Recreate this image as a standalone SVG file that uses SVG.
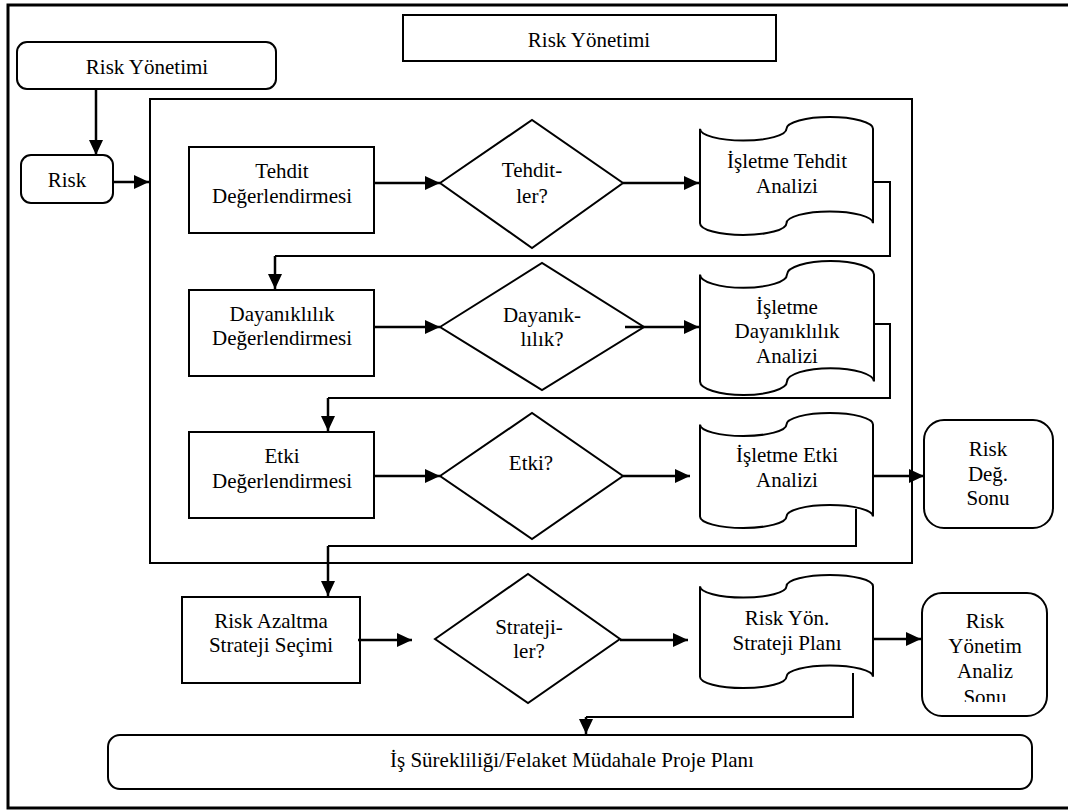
<svg xmlns="http://www.w3.org/2000/svg" width="1068" height="810" viewBox="0 0 1068 810" font-family="'Liberation Serif', 'DejaVu Serif', serif" font-size="21">
  <defs>
    <marker id="arrow" markerUnits="userSpaceOnUse" markerWidth="15" markerHeight="14" refX="15" refY="7" orient="auto">
      <path d="M0,0 L15,7 L0,14 Z" fill="#000"/>
    </marker>
    <clipPath id="clip-analiz">
      <rect x="922" y="593" width="125" height="109"/>
    </clipPath>
  </defs>
  <style>
    .frame { fill: #fff; stroke: #000; stroke-width: 3; }
    .group { fill: none; stroke: #000; stroke-width: 2; }
    .box { fill: #fff; stroke: #000; stroke-width: 2; }
    .conn { fill: none; stroke: #000; stroke-width: 2.5; }
    .link { fill: none; stroke: #000; stroke-width: 2; }
    .lbl { font-family: 'Liberation Serif', 'DejaVu Serif', serif; font-size: 21px; fill: #000; text-anchor: middle; }
  </style>

  <!-- page frame (right edge runs off the page) -->
  <rect class="frame" x="8" y="5" width="1065" height="803"/>

  <!-- heading -->
  <g id="heading">
    <rect class="box" x="403" y="15" width="373" height="46"/>
    <text class="lbl" x="589" y="47">Risk Yönetimi</text>
  </g>

  <!-- assessment group frame -->
  <rect class="group" x="150" y="99" width="762" height="464"/>

  <g id="risk-yonetimi">
    <rect class="box" x="17" y="42" width="259" height="47" rx="10"/>
    <text class="lbl" x="147" y="74">Risk Yönetimi</text>
  </g>

  <g id="risk">
    <rect class="box" x="21" y="155" width="92" height="48" rx="10"/>
    <text class="lbl" x="67" y="187">Risk</text>
  </g>

  <!-- row 1: threats -->
  <g id="tehdit-degerlendirmesi">
    <rect class="box" x="189" y="147" width="185" height="86"/>
    <text class="lbl" x="282" y="178">Tehdit</text>
    <text class="lbl" x="282" y="203">Değerlendirmesi</text>
  </g>
  <g id="tehditler">
    <polygon class="box" points="440,183 532,120 623,183 532,248"/>
    <text class="lbl" x="532" y="177">Tehdit-</text>
    <text class="lbl" x="532" y="203">ler?</text>
  </g>
  <g id="tehdit-analizi">
    <path class="box" d="M700,128.8 A43.25,11.8 0 0 0 786.5,128.8 A43.25,11.8 0 0 1 873,128.8 L873,223.2 A43.25,11.8 0 0 0 786.5,223.2 A43.25,11.8 0 0 1 700,223.2 Z"/>
    <text class="lbl" x="787" y="168">İşletme Tehdit</text>
    <text class="lbl" x="787" y="193">Analizi</text>
  </g>

  <!-- row 2: resilience -->
  <g id="dayaniklilik-degerlendirmesi">
    <rect class="box" x="189" y="290" width="185" height="86"/>
    <text class="lbl" x="282" y="321">Dayanıklılık</text>
    <text class="lbl" x="282" y="345">Değerlendirmesi</text>
  </g>
  <g id="dayaniklilik">
    <polygon class="box" points="440,327 542,263 644,327 542,390"/>
    <text class="lbl" x="542" y="322">Dayanık-</text>
    <text class="lbl" x="542" y="346">lılık?</text>
  </g>
  <g id="dayaniklilik-analizi">
    <path class="box" d="M700,274.4 A43.5,13.4 0 0 0 787,274.4 A43.5,13.4 0 0 1 874,274.4 L874,381.6 A43.5,13.4 0 0 0 787,381.6 A43.5,13.4 0 0 1 700,381.6 Z"/>
    <text class="lbl" x="787" y="314">İşletme</text>
    <text class="lbl" x="787" y="338">Dayanıklılık</text>
    <text class="lbl" x="787" y="363">Analizi</text>
  </g>

  <!-- row 3: impact -->
  <g id="etki-degerlendirmesi">
    <rect class="box" x="189" y="432" width="185" height="86"/>
    <text class="lbl" x="282" y="463">Etki</text>
    <text class="lbl" x="282" y="488">Değerlendirmesi</text>
  </g>
  <g id="etki">
    <polygon class="box" points="440,476 532,413 623,476 532,539"/>
    <text class="lbl" x="531" y="470">Etki?</text>
  </g>
  <g id="etki-analizi">
    <path class="box" d="M700,424.5 A43.25,11.5 0 0 0 786.5,424.5 A43.25,11.5 0 0 1 873,424.5 L873,516.5 A43.25,11.5 0 0 0 786.5,516.5 A43.25,11.5 0 0 1 700,516.5 Z"/>
    <text class="lbl" x="787" y="462">İşletme Etki</text>
    <text class="lbl" x="787" y="487">Analizi</text>
  </g>
  <g id="risk-deg-sonu">
    <rect class="box" x="924" y="420" width="129" height="108" rx="20"/>
    <text class="lbl" x="988" y="456">Risk</text>
    <text class="lbl" x="988" y="481">Değ.</text>
    <text class="lbl" x="988" y="505">Sonu</text>
  </g>

  <!-- row 4: mitigation strategy -->
  <g id="risk-azaltma">
    <rect class="box" x="182" y="597" width="178" height="86"/>
    <text class="lbl" x="271" y="628">Risk Azaltma</text>
    <text class="lbl" x="271" y="652">Strateji Seçimi</text>
  </g>
  <g id="stratejiler">
    <polygon class="box" points="435,639 528,574 620,639 528,703"/>
    <text class="lbl" x="529" y="634">Strateji-</text>
    <text class="lbl" x="529" y="658">ler?</text>
  </g>
  <g id="strateji-plani">
    <path class="box" d="M700,586.3 A43.25,11.3 0 0 0 786.5,586.3 A43.25,11.3 0 0 1 873,586.3 L873,676.7 A43.25,11.3 0 0 0 786.5,676.7 A43.25,11.3 0 0 1 700,676.7 Z"/>
    <text class="lbl" x="787" y="625">Risk Yön.</text>
    <text class="lbl" x="787" y="650">Strateji Planı</text>
  </g>
  <g id="risk-yonetim-analiz-sonu">
    <rect class="box" x="922" y="593" width="125" height="123" rx="20"/>
    <g clip-path="url(#clip-analiz)">
      <text class="lbl" x="985" y="628">Risk</text>
      <text class="lbl" x="985" y="653">Yönetim</text>
      <text class="lbl" x="985" y="678">Analiz</text>
      <text class="lbl" x="985" y="704">Sonu</text>
    </g>
  </g>

  <g id="proje-plani">
    <rect class="box" x="108" y="735" width="924" height="54" rx="12"/>
    <text class="lbl" x="572" y="767">İş Sürekliliği/Felaket Müdahale Proje Planı</text>
  </g>

  <!-- connectors -->
  <g id="connectors">
    <path class="conn" d="M96,89 L96,155" marker-end="url(#arrow)"/>
    <path class="conn" d="M113,182 L149,182" marker-end="url(#arrow)"/>

    <path class="conn" d="M374,183 L440,183" marker-end="url(#arrow)"/>
    <path class="conn" d="M623,183 L699,183" marker-end="url(#arrow)"/>
    <path class="link" d="M873,182 L890,182 L890,256 L275,256"/>
    <path class="conn" d="M275,256 L275,289" marker-end="url(#arrow)"/>

    <path class="conn" d="M374,327 L440,327" marker-end="url(#arrow)"/>
    <path class="conn" d="M625,327 L699,327" marker-end="url(#arrow)"/>
    <path class="link" d="M874,324 L890,324 L890,398 L328,398"/>
    <path class="conn" d="M328,398 L328,431" marker-end="url(#arrow)"/>

    <path class="conn" d="M374,476 L440,476" marker-end="url(#arrow)"/>
    <path class="conn" d="M623,476 L690,476" marker-end="url(#arrow)"/>
    <path class="conn" d="M873,476 L924,476" marker-end="url(#arrow)"/>
    <path class="link" d="M856,509 L856,546 L328,546"/>
    <path class="conn" d="M328,546 L328,596" marker-end="url(#arrow)"/>

    <path class="conn" d="M358,640 L412,640" marker-end="url(#arrow)"/>
    <path class="conn" d="M620,640 L688,640" marker-end="url(#arrow)"/>
    <path class="conn" d="M873,639 L921,639" marker-end="url(#arrow)"/>
    <path class="link" d="M853,673 L853,717 L586,717"/>
    <path class="conn" d="M586,717 L586,734" marker-end="url(#arrow)"/>
  </g>
</svg>
